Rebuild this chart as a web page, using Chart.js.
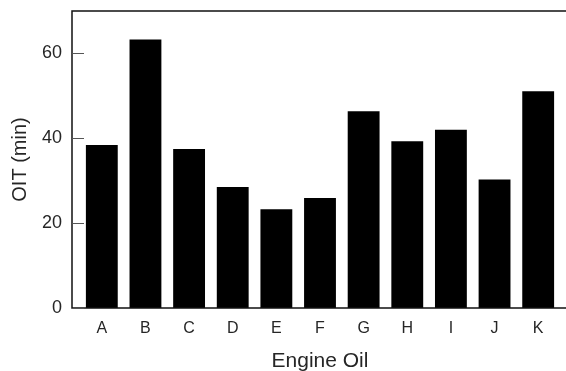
<!DOCTYPE html>
<html>
<head>
<meta charset="utf-8">
<script src="https://cdn.jsdelivr.net/npm/chart.js@4"></script>
<style>
  html, body { margin: 0; padding: 0; background: #fff; }
  #wrap { width: 566px; height: 371px; }
</style>
</head>
<body>
<div id="wrap"><canvas id="chart" width="566" height="371"></canvas></div>
<script>
const oils = ['A', 'B', 'C', 'D', 'E', 'F', 'G', 'H', 'I', 'J', 'K'];
const oitMinutes = [38.4, 63.3, 37.5, 28.5, 23.3, 25.9, 46.4, 39.3, 42.0, 30.3, 51.1];
const yTickValues = [0, 20, 40, 60];

const textColor = '#262626';
const font = 'Liberation Sans, Arial, sans-serif';

// frame lines + inward y ticks, axis sits a bit left of the first bar
const framePlugin = {
  id: 'frame',
  afterDraw(chart) {
    const { ctx, chartArea, scales } = chart;
    const axisX = chartArea.left - 8;
    const right = chart.width;
    ctx.save();
    ctx.strokeStyle = '#111';
    ctx.lineWidth = 1.5;
    ctx.beginPath();
    ctx.moveTo(right, chartArea.top);
    ctx.lineTo(axisX, chartArea.top);
    ctx.lineTo(axisX, chartArea.bottom);
    ctx.lineTo(right, chartArea.bottom);
    ctx.stroke();
    ctx.strokeStyle = '#555';
    ctx.lineWidth = 1;
    scales.y.ticks.forEach(t => {
      const y = Math.round(scales.y.getPixelForValue(t.value)) + 0.5;
      ctx.beginPath();
      ctx.moveTo(axisX, y);
      ctx.lineTo(axisX + 12, y);
      ctx.stroke();
    });
    ctx.restore();
  }
};

new Chart(document.getElementById('chart'), {
  type: 'bar',
  data: {
    labels: oils,
    datasets: [{
      data: oitMinutes,
      backgroundColor: '#000',
      borderWidth: 0,
      categoryPercentage: 1,
      barPercentage: 0.73
    }]
  },
  options: {
    responsive: false,
    animation: false,
    layout: { padding: { top: 11, right: 6, left: 0, bottom: 0 } },
    plugins: { legend: { display: false }, tooltip: { enabled: false } },
    scales: {
      x: {
        grid: { display: false },
        border: { display: false },
        ticks: { color: textColor, font: { family: font, size: 16 }, padding: 3 },
        title: {
          display: true,
          text: 'Engine Oil',
          color: textColor,
          font: { family: font, size: 21 },
          padding: { top: 0, bottom: -3 }
        },
        afterFit(scale) { scale.height = 63; }
      },
      y: {
        min: 0,
        max: 70,
        grid: { display: false },
        border: { display: false },
        ticks: { color: textColor, font: { family: font, size: 18 }, padding: 10 },
        afterBuildTicks(scale) {
          scale.ticks = yTickValues.map(v => ({ value: v }));
        },
        title: {
          display: true,
          text: 'OIT (min)',
          color: textColor,
          font: { family: font, size: 20 },
          padding: { top: 8, bottom: 0 }
        },
        afterFit(scale) {
          scale.width = 80;
          scale.paddingTop = 0;
          scale.paddingBottom = 0;
        }
      }
    }
  },
  plugins: [framePlugin]
});
</script>
</body>
</html>
